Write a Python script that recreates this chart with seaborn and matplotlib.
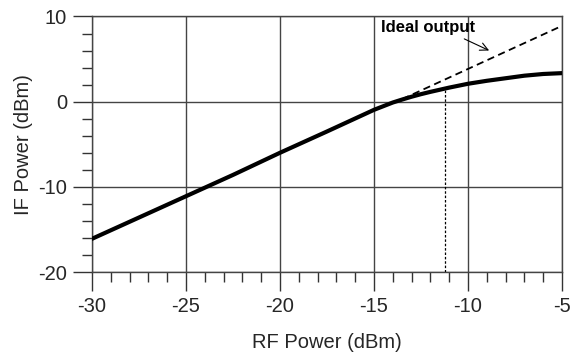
import matplotlib
matplotlib.use("Agg")
import matplotlib.pyplot as plt
import seaborn as sns
import pandas as pd
from matplotlib.ticker import MultipleLocator

rf_power = [-30, -27.5, -25, -22.5, -20, -17.5, -15, -14, -13.5, -13, -12.5, -12, -11, -10, -9, -8, -7, -6, -5]
if_power = [-16.1, -13.6, -11.1, -8.6, -6.0, -3.5, -0.96, -0.1, 0.25, 0.58, 0.88, 1.15, 1.65, 2.1, 2.45, 2.75, 3.05, 3.25, 3.35]
ideal_rf = [-13.5, -5]
ideal_if = [0.3, 8.9]
p1db_rf = -11.2
p1db_if = 1.55
x_ticks = [-30, -25, -20, -15, -10, -5]
y_ticks = [-20, -10, 0, 10]

sns.set_theme(style="white")
plt.rcParams['font.family'] = ['Liberation Sans', 'DejaVu Sans']

fig = plt.figure(figsize=(5.74, 3.54), dpi=100)
ax = fig.add_axes([0.1603, 0.2316, 0.979 - 0.1603, 0.9534 - 0.2316])

df = pd.DataFrame({"rf": rf_power, "if": if_power})
sns.lineplot(data=df, x="rf", y="if", ax=ax, color="black", linewidth=3, zorder=5)
sns.lineplot(x=ideal_rf, y=ideal_if, ax=ax, color="black", linewidth=1.3,
             linestyle=(0, (4, 2.5)), zorder=4)
ax.vlines(p1db_rf, -20, p1db_if, colors="black", linewidth=0.9,
          linestyles=[(0, (2, 1.5))], zorder=3)

ax.set_xlim(-30, -5)
ax.set_ylim(-20, 10)
ax.set_xticks(x_ticks)
ax.set_yticks(y_ticks)
ax.set_xticklabels([str(t) for t in x_ticks])
ax.set_yticklabels([str(t) for t in y_ticks])
ax.xaxis.set_minor_locator(MultipleLocator(1))
ax.yaxis.set_minor_locator(MultipleLocator(2))
ax.tick_params(which="major", direction="out", length=14, width=1, color="#333",
               labelsize=14.5, pad=4, bottom=True, left=True)
ax.tick_params(which="minor", direction="out", length=7, width=1, color="#333",
               bottom=True, left=True)

ax.grid(True, which="major", color="#444", linewidth=1)
for s in ax.spines.values():
    s.set_color("#444")
    s.set_linewidth(1)

ax.set_xlabel("RF Power (dBm)", fontsize=14.5, labelpad=12)
ax.set_ylabel("IF Power (dBm)", fontsize=14.5, labelpad=4)

ax.annotate("", xy=(-8.74, 5.87), xytext=(-10.33, 7.51),
            arrowprops=dict(arrowstyle="->", color="black", lw=0.8,
                            mutation_scale=14))
ax.text(-14.63, 8.65, "Ideal output", fontsize=12, fontweight="bold",
        ha="left", va="center", color="black")

fig.savefig("out.png", dpi=100)
